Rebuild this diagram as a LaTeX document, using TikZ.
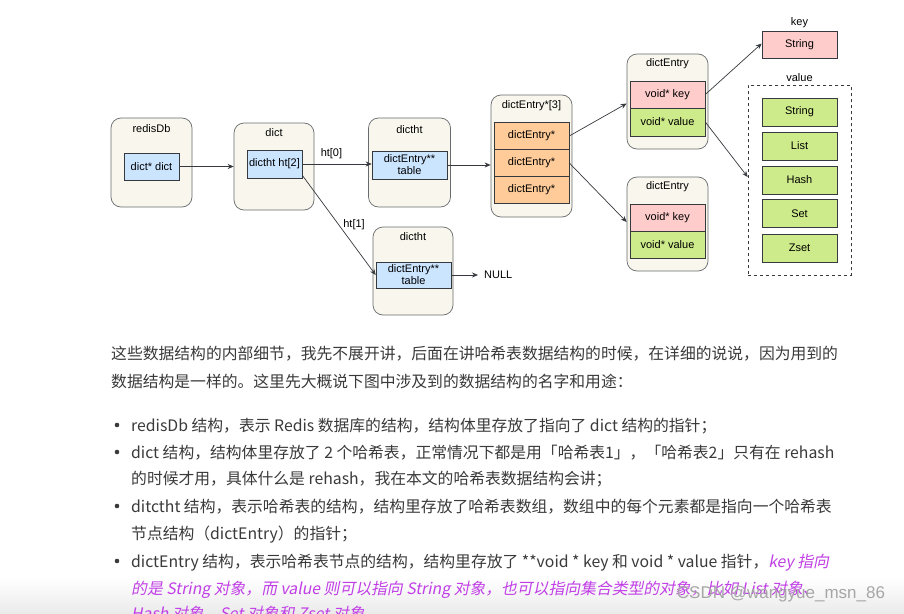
\documentclass[tikz,border=0pt]{standalone}
\usepackage{fontspec}
\setmainfont{Liberation Sans}
\newfontfamily\cjk{Noto Sans CJK SC}
\newfontfamily\cjkit[FakeSlant=0.2]{Noto Sans CJK SC}
\usetikzlibrary{arrows.meta,calc}
\definecolor{outerfill}{HTML}{F9F7ED}
\definecolor{edge}{HTML}{36393D}
\definecolor{bluef}{HTML}{CCE5FF}
\definecolor{orangef}{HTML}{FFCC99}
\definecolor{pinkf}{HTML}{FFCCCC}
\definecolor{greenf}{HTML}{CDEB8B}
\definecolor{txt}{HTML}{3A3A3A}
\definecolor{purp}{HTML}{C13FE6}
\begin{document}
\begin{tikzpicture}[x=1pt,y=-1pt,
  container/.style={draw=edge!75, fill=outerfill, rounded corners=10pt, line width=0.7pt, inner sep=0pt},
  cell/.style={draw=edge, line width=0.6pt, inner sep=0pt, minimum width=75pt, minimum height=27pt, font=\fontsize{11}{12}\selectfont, align=center},
  ttl/.style={font=\fontsize{11}{12}\selectfont, inner sep=0pt},
  conn/.style={draw=edge, line width=0.7pt, -{Stealth[length=6pt,width=5pt]}},
  para/.style={anchor=base west, inner sep=0pt, font=\cjk\fontsize{15.8}{20}\selectfont, text=txt},
]
\useasboundingbox (0,0) rectangle (904,613);
\fill[white] (0,0) rectangle (904,613);

% redisDb
\node[container, minimum width=81pt, minimum height=89pt] (rdb) at (151.5,162.5) {};
\node[ttl] (rdbt) at (151.5,129) {redisDb};
\node[cell, fill=bluef, minimum width=55pt] (rdbin) at (151.5,166.5) {dict* dict};

% dict
\node[container, minimum width=80pt, minimum height=87pt] (dct) at (274,166.5) {};
\node[ttl] (dctt) at (274,133) {dict};
\node[cell, fill=bluef, minimum width=55pt, minimum height=28pt] (dctin) at (274.5,164) {dictht ht[2]};

% dictht top
\node[container, minimum width=82pt, minimum height=89pt] (dth1) at (409.5,162.5) {};
\node[ttl] (dth1t) at (409.5,130) {dictht};
\node[cell, fill=bluef, minimum height=28pt] (dth1in) at (409.5,165) {dictEntry**\\table};

% dictht bottom
\node[container, minimum width=80pt, minimum height=88pt] (dth2) at (413,271) {};
\node[ttl] (dth2t) at (413,237) {dictht};
\node[cell, fill=bluef, minimum height=26pt] (dth2in) at (413.5,275) {dictEntry**\\table};
\node[ttl, anchor=west, inner xsep=6pt] (null) at (478,275) {NULL};

% dictEntry*[3]
\node[container, minimum width=81pt, minimum height=122pt] (arr) at (531.5,156) {};
\node[ttl] (arrt) at (531.5,106) {dictEntry*[3]};
\node[cell, fill=orangef] (c1) at (531.5,136) {dictEntry*};
\node[cell, fill=orangef] (c2) at (531.5,163) {dictEntry*};
\node[cell, fill=orangef] (c3) at (531.5,190) {dictEntry*};

% dictEntry top
\node[container, minimum width=81pt, minimum height=95pt] (de1) at (667.5,101.5) {};
\node[ttl] (de1t) at (667.5,64) {dictEntry};
\node[cell, fill=pinkf] (de1k) at (667.5,94.5) {void* key};
\node[cell, fill=greenf, minimum height=28pt] (de1v) at (667.5,122) {void* value};

% dictEntry bottom
\node[container, minimum width=81pt, minimum height=94pt] (de2) at (667.5,224) {};
\node[ttl] (de2t) at (667.5,187) {dictEntry};
\node[cell, fill=pinkf] (de2k) at (667.5,217.5) {void* key};
\node[cell, fill=greenf] (de2v) at (667.5,244.5) {void* value};

% key
\node[ttl] (keyt) at (799.5,23) {key};
\node[cell, fill=pinkf] (kstr) at (799.5,44.5) {String};

% value
\node[ttl] (valt) at (799.5,78) {value};
\node[draw=edge, dashed, line width=0.6pt, inner sep=0pt, minimum width=103pt, minimum height=190pt] (val) at (799.5,180) {};
\node[cell, fill=greenf, minimum height=28pt] (vs) at (799.5,112) {String};
\node[cell, fill=greenf, minimum height=28pt] (vl) at (799.5,146) {List};
\node[cell, fill=greenf, minimum height=28pt] (vh) at (799.5,180) {Hash};
\node[cell, fill=greenf, minimum height=28pt] (vset) at (799.5,213.5) {Set};
\node[cell, fill=greenf, minimum height=28pt] (vz) at (799.5,248) {Zset};

% connectors
\draw[conn] (rdbin.east) -- (rdbin.east -| dct.west);
\draw[conn] (dctin.east) -- node[ttl, above=5pt, pos=0.42] (ht0) {ht[0]} (dctin.east -| dth1in.west);
\draw[conn] ($(dctin.south east)+(0,-3)$) -- node[ttl, pos=0.5, right=4pt] (ht1) {ht[1]} (dth2in.west);
\draw[conn] (dth1in.east) -- (dth1in.east -| arr.west);
\draw[conn] (dth2in.east) -- (null.west);
\draw[conn] (c1.east) -- ($(de1.west)+(0,2)$);
\draw[conn] (c2.east) -- ($(de2.west)+(0,-2)$);
\draw[conn] (de1k.east) -- ($(kstr.west)+(0,-1)$);
\draw[conn] (de1v.east) -- ($(val.west)+(0,-3)$);

% bottom fade
\shade[top color=white, bottom color=gray!16] (0,578) rectangle (904,613);

% text
\node[para] (p1) at (111,359) {这些数据结构的内部细节，我先不展开讲，后面在讲哈希表数据结构的时候，在详细的说说，因为用到的};
\node[para] (p2) at (111,387) {数据结构是一样的。这里先大概说下图中涉及到的数据结构的名字和用途：};

\foreach \yy in {425,452,506,561} \fill[txt] (117,\yy) circle (2.3pt);

\node[para] (b1) at (131,431) {redisDb 结构，表示 Redis 数据库的结构，结构体里存放了指向了 dict 结构的指针；};
\node[para] (b2) at (131,458) {dict 结构，结构体里存放了 2 个哈希表，正常情况下都是用「哈希表1」，「哈希表2」只有在 rehash};
\node[para] (b2b) at (131,484) {的时候才用，具体什么是 rehash，我在本文的哈希表数据结构会讲；};
\node[para] (b3) at (131,512) {ditctht 结构，表示哈希表的结构，结构里存放了哈希表数组，数组中的每个元素都是指向一个哈希表};
\node[para] (b3b) at (131,539) {节点结构（dictEntry）的指针；};
\node[para] (b4) at (131,567) {dictEntry 结构，表示哈希表节点的结构，结构里存放了 **void * key 和 void * value 指针，{\cjkit\color{purp} key 指向}};
\node[para, text=purp, font=\cjkit\fontsize{15.8}{20}\selectfont] (b4b) at (131,594) {的是 String 对象，而 value 则可以指向 String 对象，也可以指向集合类型的对象，比如 List 对象、};
\node[para, text=purp, font=\cjkit\fontsize{15.8}{20}\selectfont] (b4c) at (131,619) {Hash 对象、Set 对象和 Zset 对象。};

% watermark
\node[font=\fontsize{17}{17}\selectfont, text=gray!70, inner sep=0pt] (wm) at (781,594) {CSDN @wangyue\_msn\_86};
\end{tikzpicture}
\end{document}
